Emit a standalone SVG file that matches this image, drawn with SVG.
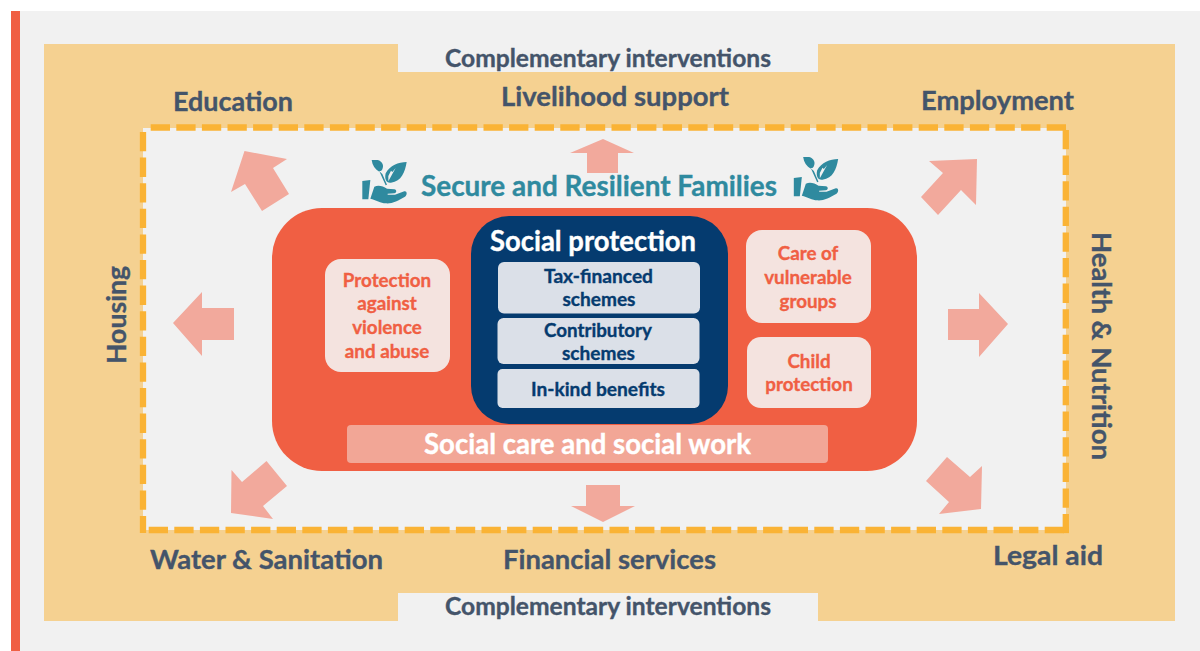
<svg xmlns="http://www.w3.org/2000/svg" width="1200" height="651" viewBox="0 0 1200 651">
<style>
text{font-family:"Lato","Noto Sans","Liberation Sans",sans-serif;font-weight:700;text-anchor:middle;stroke-width:.35px;paint-order:stroke}
.d{fill:#44546a;stroke:#44546a;font-size:27.5px}
.c{fill:#44546a;stroke:#44546a;font-size:24.6px}
.n{fill:#053b6f;stroke:#053b6f;font-size:18.8px}
.o{fill:#f05f43;stroke:#f05f43;font-size:18.8px}
.w{fill:#fff;stroke:#fff;font-size:28px}
.a{fill:#f2a99c}
.i{fill:#2f8a9f}
.p{fill:#f4e3df}
.s{fill:#dbe0e8}
.dash{fill:none;stroke:#fab335;stroke-width:6.3;stroke-dasharray:19.3 6.3}
</style>
<defs>
<g id="hand" transform="scale(.3333)">
<path class="i" d="M22 93L46 90L40 148L22 148Z"/>
<path class="i" d="M58 110C70 104 84 108 96 116L118 118C126 120 126 128 118 130L98 131L98 134L120 134L148 124C156 122 158 134 150 140C130 152 110 162 92 160C78 160 62 150 46 146Z"/>
<path class="i" d="M50 30L68 30C82 34 88 46 82 58C80 63 76 64 72 63L82 72L96 104L92 106L74 66C60 58 52 46 50 30Z"/>
<path class="i" d="M155 36C130 36 105 46 92 70C88 88 94 100 108 98C140 94 150 66 155 36Z"/>
<path d="M100 94L122 54L112 66L108 62L100 78Z" fill="#f1f1f1"/>
</g>
</defs>
<rect width="1200" height="651" fill="#fff"/>
<rect x="11" y="11" width="1189" height="640" fill="#f1f1f1"/>
<rect x="11" y="11" width="9" height="640" fill="#f05f43"/>
<rect x="44" y="44" width="1131" height="577" fill="#f5d191"/>
<rect x="398" y="44" width="420" height="28" fill="#f1f1f1"/>
<rect x="398" y="593" width="420" height="28" fill="#f1f1f1"/>
<rect x="143" y="128" width="923" height="402" fill="#f1f1f1"/>
<g id="connectors">
<path class="dash" d="M1066 127.5H149" stroke-dashoffset="0"/>
<path class="dash" d="M1065.8 130V533" style="stroke-dashoffset:0"/>
<path class="dash" d="M1064 530H146" style="stroke-dashoffset:0"/>
<path class="dash" d="M143 533V130" style="stroke-dashoffset:2.3"/>
<path d="M1063 530H1069" stroke="#fab335" stroke-width="6.3"/>
<polygon class="a" points="244.5,151 287,159 273,168 289,194 262,211 245,184 231,192"/>
<polygon class="a" points="603,139 634,153 618,153 618,173 587,173 587,153 570,153"/>
<polygon class="a" points="977,159 976,205 961,190 938,215 921,197 943,173 929,161"/>
<polygon class="a" points="173,323 202,292 202,308 234,308 234,340 202,340 202,356"/>
<polygon class="a" points="1008,324 979,293 979,309 948,309 948,340 979,340 979,357"/>
<polygon class="a" points="231.5,470 242,482 266.5,461 287,486 263,506 273,519 231,513"/>
<polygon class="a" points="603,522 571,506 586,506 586,485 620,485 620,506 635,506"/>
<polygon class="a" points="981,509 939,514 949,502 926,481 947,457 970,477 982,466"/>
</g>
<g id="labels">
<text class="d" x="233" y="111" textLength="120" lengthAdjust="spacingAndGlyphs">Education</text>
<text class="d" x="615" y="106" textLength="228" lengthAdjust="spacingAndGlyphs">Livelihood support</text>
<text class="d" x="997.500" y="110" textLength="153" lengthAdjust="spacingAndGlyphs">Employment</text>
<text class="d" transform="translate(126,315) rotate(-90)" textLength="98" lengthAdjust="spacingAndGlyphs">Housing</text>
<text class="d" transform="translate(1092,346) rotate(90)" textLength="228" lengthAdjust="spacingAndGlyphs">Health &amp; Nutrition</text>
<text class="d" x="266.500" y="569" textLength="233" lengthAdjust="spacingAndGlyphs">Water &amp; Sanitation</text>
<text class="d" x="609.500" y="569" textLength="213" lengthAdjust="spacingAndGlyphs">Financial services</text>
<text class="d" x="1048" y="565" textLength="110" lengthAdjust="spacingAndGlyphs">Legal aid</text>
<text class="c" x="608" y="67" textLength="326" lengthAdjust="spacingAndGlyphs">Complementary interventions</text>
<text class="c" x="608" y="615" textLength="326" lengthAdjust="spacingAndGlyphs">Complementary interventions</text>
</g>
<g id="secure-families">
<use href="#hand" transform="translate(355,150)"/>
<use href="#hand" transform="translate(786.500,147)"/>
<text x="599" y="196" font-size="28" fill="#2f8a9f" stroke="#2f8a9f" textLength="356" lengthAdjust="spacingAndGlyphs">Secure and Resilient Families</text>
</g>
<g id="social-care">
<rect x="272" y="208" width="645" height="263" rx="50" fill="#f05f43"/>
<rect x="347" y="425" width="481" height="38" rx="4" fill="#f2a696"/>
<text class="w" x="587.500" y="454" textLength="327" lengthAdjust="spacingAndGlyphs">Social care and social work</text>
</g>
<g id="social-protection">
<rect x="471" y="216" width="257" height="208" rx="38" fill="#053b6f"/>
<text class="w" x="593" y="250.500" textLength="206" lengthAdjust="spacingAndGlyphs">Social protection</text>
</g>
<g id="tax-financed">
<rect class="s" x="498" y="262" width="202" height="51.500" rx="6"/>
<text class="n" x="598.500" y="283" textLength="109" lengthAdjust="spacingAndGlyphs">Tax-financed</text>
<text class="n" x="599" y="306" textLength="73" lengthAdjust="spacingAndGlyphs">schemes</text>
</g>
<g id="contributory">
<rect class="s" x="497.500" y="318" width="202" height="46" rx="6"/>
<text class="n" x="598" y="337" textLength="108" lengthAdjust="spacingAndGlyphs">Contributory</text>
<text class="n" x="598.500" y="360" textLength="73" lengthAdjust="spacingAndGlyphs">schemes</text>
</g>
<g id="in-kind">
<rect class="s" x="497.500" y="369" width="202" height="39" rx="5"/>
<text class="n" x="598" y="395.500" textLength="134" lengthAdjust="spacingAndGlyphs">In-kind benefits</text>
</g>
<g id="protection-violence">
<rect class="p" x="325" y="259" width="125" height="113" rx="16"/>
<text class="o" x="387" y="287">Protection</text>
<text class="o" x="387" y="310">against</text>
<text class="o" x="387" y="334">violence</text>
<text class="o" x="387" y="358">and abuse</text>
</g>
<g id="care-vulnerable">
<rect class="p" x="746" y="230" width="125" height="93" rx="16"/>
<text class="o" x="808" y="260">Care of</text>
<text class="o" x="808" y="284">vulnerable</text>
<text class="o" x="808" y="308">groups</text>
</g>
<g id="child-protection">
<rect class="p" x="747" y="337" width="124" height="71" rx="14"/>
<text class="o" x="809" y="368">Child</text>
<text class="o" x="809" y="391">protection</text>
</g>
</svg>
